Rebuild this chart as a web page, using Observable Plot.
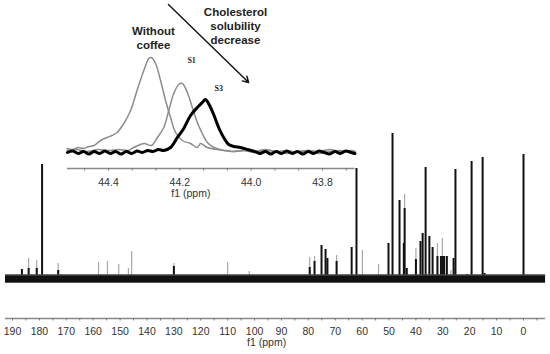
<!DOCTYPE html>
<html>
<head>
<meta charset="utf-8">
<script src="https://cdn.jsdelivr.net/npm/d3@7"></script>
<script src="https://cdn.jsdelivr.net/npm/@observablehq/plot@0.6"></script>
<style>
  html, body { margin: 0; padding: 0; background: white; }
  #wrap { position: relative; width: 550px; height: 354px; }
  #wrap svg { position: absolute; left: 0; top: 0; }
</style>
</head>
<body>
<div id="wrap"></div>
<script>
// ---- main spectrum data (ppm, peak height above baseline) ----
const blackPpm = [186.5, 184, 181, 179, 173, 130, 79.5, 77.7, 75.1, 73.6, 72.9, 69.5, 63.9, 62.1, 50.2, 48.7, 46.1, 44.5, 44.2, 43.4, 40, 38.3, 37.5, 36.4, 35, 33.8, 32, 30.7, 30, 29.5, 28.5, 26, 25.3, 21, 19.3, 15.2, 14.5, 0];
const blackH   = [9, 10, 10, 114, 8, 12, 11, 17, 33, 29, 20, 17, 31, 110, 35, 145, 78, 35, 70, 10, 19, 37, 45, 111, 42, 31, 22, 22, 22, 22, 22, 20, 109, 4, 117, 121, 5, 124];
const grayPpm  = [184, 181, 173, 158, 154.7, 150.5, 146.9, 145.7, 130, 110, 102, 79.5, 77.7, 69.5, 59.9, 53.9, 44.2, 40, 32, 30.2, 27];
const grayH    = [20, 18, 15, 16, 17, 14, 10, 27, 15, 16, 7, 21, 22, 23, 28, 14, 84, 30, 35, 40, 8];
const mainTickLabels = [190, 180, 170, 160, 150, 140, 130, 120, 110, 100, 90, 80, 70, 60, 50, 40, 30, 20, 10, 0];
const mainMinorTicks = [190, 185, 180, 175, 170, 165, 160, 155, 150, 145, 140, 135, 130, 125, 120, 115, 110, 105, 100, 95, 90, 85, 80, 75, 70, 65, 60, 55, 50, 45, 40, 35, 30, 25, 20, 15, 10, 5, 0, -5];

// ---- inset traces (ppm, intensity) ----
const woPpm = [44.516, 44.50, 44.485, 44.469, 44.455, 44.441, 44.422, 44.404, 44.39, 44.376, 44.357, 44.338, 44.320, 44.301, 44.287, 44.280, 44.268, 44.254, 44.240, 44.226, 44.212, 44.193, 44.170, 44.151, 44.142, 44.123, 44.095, 44.07, 44.048, 44.02, 43.99, 43.96, 43.93, 43.90, 43.87, 43.84, 43.81, 43.78, 43.75, 43.72, 43.709];
const woVal = [4, 3, 5, 4, 6, 7, 12, 15, 17, 20, 29, 42, 62, 82, 94, 95, 89, 72, 52, 35, 20, 12, 9, 5, 9, 5, 3, 2, 1, 2, 1, 3, 1, 2, 0, 2, 1, 3, 1, 2, 1];
const s1Ppm = [44.516, 44.49, 44.46, 44.43, 44.40, 44.37, 44.345, 44.329, 44.30, 44.28, 44.263, 44.245, 44.231, 44.217, 44.203, 44.193, 44.179, 44.165, 44.151, 44.137, 44.123, 44.104, 44.077, 44.05, 44.02, 43.99, 43.96, 43.93, 43.90, 43.87, 43.84, 43.81, 43.78, 43.75, 43.72, 43.709];
const s1Val = [2, 3, 1, 3, 2, 3, 2, 5, 9, 7, 15, 25, 42, 59, 68, 69, 60, 45, 30, 19, 10, 5, 2, 1, 2, 0, 2, 1, -1, 1, 2, -1, 1, 2, 0, 1];
const s3Ppm = [44.515, 44.50, 44.485, 44.47, 44.455, 44.44, 44.425, 44.41, 44.395, 44.38, 44.365, 44.35, 44.335, 44.32, 44.305, 44.29, 44.275, 44.26, 44.245, 44.226, 44.207, 44.189, 44.170, 44.151, 44.137, 44.128, 44.118, 44.104, 44.090, 44.077, 44.063, 44.048, 44.030, 44.011, 43.99, 43.975, 43.96, 43.945, 43.93, 43.915, 43.90, 43.885, 43.87, 43.855, 43.84, 43.825, 43.81, 43.795, 43.78, 43.765, 43.75, 43.735, 43.72, 43.709];
const s3Val = [0, 1.5, -1, 1, -1.5, 1, -1, 1.5, -1, 1, -1.5, 1, -1, 1.5, 0, 2, 1, 3, 2, 5, 15, 24, 37, 45, 50, 53, 48, 37, 24, 15, 8, 6, 5, 3, 1, -1, 1, -1.5, 1, -1, 1.5, -1, 1, -1.5, 1, -1, 1.5, 0, -1.5, 1, -1, 1.5, 0, -1];
const insetTickLabels = [44.4, 44.2, 44.0, 43.8];
const insetMinorTicks = [44.4667, 44.4, 44.3333, 44.2667, 44.2, 44.1333, 44.0667, 44.0, 43.9333, 43.8667, 43.8, 43.7333];

const font = "Arial, 'Liberation Sans', sans-serif";
const zip = (xs, ys) => xs.map((x, i) => ({x, y: ys[i]}));

const black = zip(blackPpm, blackH);
const gray = zip(grayPpm, grayH);

const main = Plot.plot({
  width: 550, height: 354,
  style: {fontFamily: font, background: "white"},
  x: {domain: [190, 0], range: [12, 523], axis: null},
  y: {domain: [0, 145], range: [278, 133], axis: null},
  marks: [
    Plot.ruleX(gray, {x: "x", y1: 0, y2: "y", stroke: "#a8a8a8", strokeWidth: 1.2}),
    Plot.ruleX(black, {x: "x", y1: 0, y2: "y", stroke: "#111", strokeWidth: 2}),
    Plot.ruleY([-3.5], {x1: 192.6, x2: -8.2, stroke: "#555", strokeWidth: 2}),
    Plot.ruleY([0], {x1: 192.6, x2: -8.2, stroke: "#111", strokeWidth: 7}),
    Plot.ruleY([3.5], {x1: 192.6, x2: -8.2, stroke: "#444", strokeWidth: 1.5}),
    Plot.ruleY([-40], {x1: 192.6, x2: -8.2, stroke: "#888", strokeWidth: 1.5}),
    Plot.ruleX(mainMinorTicks, {x: d => d, y1: -40, y2: -42.5, stroke: "#777", strokeWidth: 1}),
    Plot.text(mainTickLabels, {x: d => d, y: -53, text: d => String(d), fontSize: 10.5, fill: "#333"}),
    Plot.text(["f1 (ppm)"], {x: 95.5, y: -64, text: d => d, fontSize: 10.5, fill: "#333"})
  ]
});

const wo = zip(woPpm, woVal);
const s1 = zip(s1Ppm, s1Val);
const s3 = zip(s3Ppm, s3Val);

const inset = Plot.plot({
  width: 550, height: 200,
  style: {fontFamily: font, background: "transparent"},
  x: {domain: [44.4, 43.8], range: [108, 322], axis: null},
  y: {domain: [0, 95], range: [152, 57], axis: null},
  marks: [
    Plot.line(wo, {x: "x", y: "y", stroke: "#8c8c8c", strokeWidth: 1.5, curve: "catmull-rom"}),
    Plot.line(s1, {x: "x", y: "y", stroke: "#8c8c8c", strokeWidth: 1.5, curve: "catmull-rom"}),
    Plot.line(s3, {x: "x", y: "y", stroke: "#000", strokeWidth: 3, curve: "catmull-rom"}),
    Plot.ruleY([-16], {x1: 44.515, x2: 43.709, stroke: "#888", strokeWidth: 1.5}),
    Plot.ruleX(insetMinorTicks, {x: d => d, y1: -16, y2: -18.5, stroke: "#777", strokeWidth: 1}),
    Plot.text(insetTickLabels, {x: d => d, y: -30, text: d => d.toFixed(1), fontSize: 10.5, fill: "#333"}),
    Plot.text(["f1 (ppm)"], {x: 44.169, y: -41, text: d => d, fontSize: 10.5, fill: "#333"}),
    Plot.text(["Without\ncoffee"], {x: 44.274, y: 115, text: d => d, fontSize: 11.5, fontWeight: "bold", fill: "#222", lineHeight: 1.2}),
    Plot.text(["Cholesterol\nsolubility\ndecrease"], {x: 44.044, y: 127, text: d => d, fontSize: 11.5, fontWeight: "bold", fill: "#222", lineHeight: 1.2}),
    Plot.text(["S1"], {x: 44.167, y: 92, text: d => d, fontSize: 8, fontWeight: "bold", fontFamily: "'Liberation Serif', serif", fill: "#222"}),
    Plot.text(["S3"], {x: 44.091, y: 64, text: d => d, fontSize: 8, fontWeight: "bold", fontFamily: "'Liberation Serif', serif", fill: "#222"}),
    Plot.arrow([{x1: 44.232, y1: 148, x2: 44.007, y2: 70}], {x1: "x1", y1: "y1", x2: "x2", y2: "y2", stroke: "#111", strokeWidth: 1.4, headLength: 7})
  ]
});

const wrap = document.getElementById("wrap");
wrap.appendChild(main);
wrap.appendChild(inset);
</script>
</body>
</html>
